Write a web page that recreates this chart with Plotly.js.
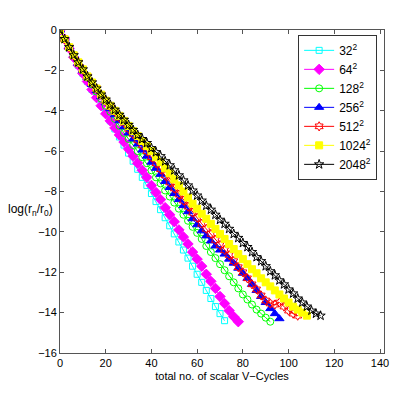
<!DOCTYPE html>
<html>
<head>
<meta charset="utf-8">
<script src="https://cdn.plot.ly/plotly-3.0.1.min.js"></script>
<style>
  html, body { margin: 0; padding: 0; background: white; }
  #plot { width: 414px; height: 399px; }
</style>
</head>
<body>
<div id="plot"></div>
<script>
// Grid sizes (legend labels)
const gridNames = ['32<sup>2</sup>', '64<sup>2</sup>', '128<sup>2</sup>', '256<sup>2</sup>',
                   '512<sup>2</sup>', '1024<sup>2</sup>', '2048<sup>2</sup>'];

// x step between recorded residuals (scalar V-cycles)
const cycleStep = 2;

// log(r_n/r_0), one value every 2 V-cycles
const res32 = [0, -0.45, -0.9, -1.3, -1.75, -2.15, -2.55, -2.95, -3.3, -3.7, -4.1, -4.5, -4.9,
  -5.3, -5.7, -6.1, -6.5, -6.9, -7.3, -7.7, -8.1, -8.5, -8.9, -9.3, -9.7, -10.1, -10.5, -10.9,
  -11.3, -11.7, -12.1, -12.5, -12.9, -13.3, -13.7, -14.05, -14.4];
const res64 = [0, -0.45, -0.9, -1.35, -1.75, -2.15, -2.55, -2.95, -3.35, -3.75, -4.15, -4.5, -4.85,
  -5.2, -5.55, -5.9, -6.25, -6.6, -6.95, -7.3, -7.7, -8.05, -8.4, -8.8, -9.15, -9.5, -9.9, -10.25,
  -10.6, -11.0, -11.35, -11.7, -12.1, -12.45, -12.8, -13.2, -13.55, -13.9, -14.2, -14.45];
const res128 = [0, -0.45, -0.85, -1.25, -1.65, -2.0, -2.35, -2.7, -3.05, -3.4, -3.75, -4.05, -4.4,
  -4.75, -5.1, -5.4, -5.7, -6.0, -6.3, -6.6, -6.95, -7.3, -7.6, -7.95, -8.25, -8.55, -8.85, -9.15,
  -9.45, -9.75, -10.05, -10.35, -10.7, -11.0, -11.3, -11.6, -11.9, -12.2, -12.5, -12.8, -13.1,
  -13.35, -13.6, -13.85, -14.05, -14.25, -14.45];
const res256 = [0, -0.45, -0.85, -1.25, -1.65, -2.0, -2.35, -2.7, -3.0, -3.3, -3.6, -3.9, -4.2,
  -4.5, -4.8, -5.1, -5.4, -5.65, -5.95, -6.25, -6.55, -6.85, -7.15, -7.5, -7.8, -8.1, -8.4, -8.7,
  -9.0, -9.35, -9.65, -9.95, -10.2, -10.45, -10.7, -10.9, -11.1, -11.35, -11.55, -11.8, -12.05,
  -12.3, -12.6, -12.9, -13.2, -13.5, -13.8, -14.05, -14.3];
const res512 = [0, -0.45, -0.85, -1.25, -1.6, -1.95, -2.3, -2.6, -2.9, -3.2, -3.5, -3.8, -4.05,
  -4.35, -4.6, -4.9, -5.15, -5.45, -5.7, -6.0, -6.3, -6.6, -6.9, -7.2, -7.55, -7.85, -8.15, -8.45,
  -8.75, -9.05, -9.3, -9.6, -9.85, -10.1, -10.4, -10.65, -10.9, -11.15, -11.45, -11.75, -12.0,
  -12.3, -12.6, -12.85, -13.15, -13.4, -13.55, -13.6, -13.5, -13.7, -13.9, -14.05, -14.15];
const res1024 = [0, -0.45, -0.85, -1.25, -1.6, -1.95, -2.3, -2.6, -2.9, -3.2, -3.5, -3.75, -4.0,
  -4.25, -4.5, -4.75, -5.0, -5.25, -5.5, -5.75, -6.0, -6.3, -6.55, -6.85, -7.1, -7.4, -7.7, -8.0,
  -8.3, -8.6, -8.85, -9.1, -9.35, -9.6, -9.85, -10.1, -10.35, -10.6, -10.85, -11.1, -11.35, -11.6,
  -11.85, -12.05, -12.3, -12.5, -12.7, -12.9, -13.1, -13.3, -13.5, -13.7, -13.85, -14.0, -14.15];
const res2048 = [0, -0.45, -0.85, -1.25, -1.6, -1.95, -2.3, -2.6, -2.9, -3.2, -3.45, -3.7, -3.95,
  -4.2, -4.45, -4.7, -4.95, -5.2, -5.4, -5.6, -5.85, -6.05, -6.25, -6.5, -6.7, -6.95, -7.2, -7.45,
  -7.7, -7.95, -8.2, -8.45, -8.7, -8.9, -9.15, -9.4, -9.6, -9.85, -10.1, -10.3, -10.55, -10.75,
  -11.0, -11.25, -11.45, -11.7, -11.95, -12.15, -12.4, -12.6, -12.85, -13.05, -13.3, -13.5,
  -13.7, -13.9, -14.05, -14.15];

const allRes = [res32, res64, res128, res256, res512, res1024, res2048];

// MATLAB-like line styles
const colors = ['#00FFFF', '#FF00FF', '#00FF00', '#0000FF', '#FF0000', '#FFFF00', '#000000'];
const symbols = ['square-open', 'diamond', 'circle-open', 'triangle-up', 'hexagram-open', 'square', 'star-open'];
const sizes = [6, 8, 7, 8, 7, 7, 7];

const traces = allRes.map((ys, i) => ({
    x: ys.map((_, k) => k * cycleStep),
    y: ys,
    type: 'scatter',
    mode: 'lines+markers',
    name: gridNames[i],
    line: { color: colors[i], width: 1 },
    marker: { symbol: symbols[i], size: sizes[i], color: colors[i], line: { color: colors[i], width: 1 } }
}));

const axisStyle = {
    showgrid: false,
    zeroline: false,
    showline: true,
    linecolor: '#555',
    linewidth: 1,
    mirror: 'ticks',
    ticks: 'inside',
    ticklen: 4,
    tickcolor: '#555',
    tickfont: { family: 'Liberation Sans, Arial, sans-serif', size: 11, color: '#000' }
};

const layout = {
    width: 414,
    height: 399,
    margin: { l: 60, r: 30, t: 30, b: 46 },
    paper_bgcolor: 'white',
    plot_bgcolor: 'white',
    font: { family: 'Liberation Sans, Arial, sans-serif', size: 11, color: '#000' },
    xaxis: Object.assign({}, axisStyle, {
        range: [0, 141.75],
        tickvals: [0, 20, 40, 60, 80, 100, 120, 140],
        title: { text: 'total no. of scalar V\u2212Cycles', standoff: 4, font: { size: 11 } }
    }),
    yaxis: Object.assign({}, axisStyle, {
        range: [-16, 0],
        tickvals: [0, -2, -4, -6, -8, -10, -12, -14, -16]
    }),
    annotations: [{
        text: 'log(r<sub>n</sub>/r<sub>0</sub>)',
        xref: 'paper', yref: 'y',
        x: -0.015, y: -8.9,
        xanchor: 'right', yanchor: 'middle',
        showarrow: false,
        font: { size: 12 }
    }],
    showlegend: true,
    legend: {
        x: 0.735, y: 0.985,
        xanchor: 'left', yanchor: 'top',
        bgcolor: 'white',
        bordercolor: '#333',
        borderwidth: 1,
        font: { size: 12 },
        tracegroupgap: 0
    }
};

Plotly.newPlot('plot', traces, layout, { displayModeBar: false, staticPlot: true });
</script>
</body>
</html>
